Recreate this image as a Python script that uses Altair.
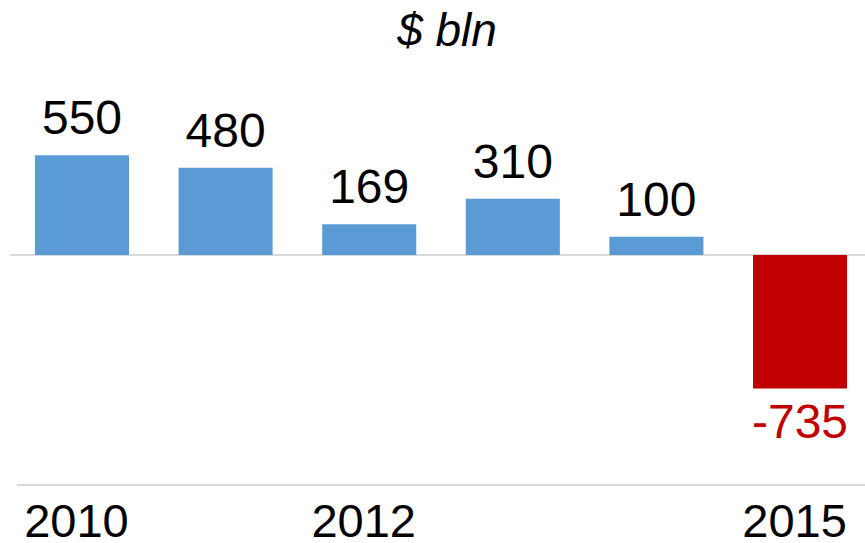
import altair as alt
import pandas as pd

years = ["2010", "2011", "2012", "2013", "2014", "2015"]
values = [550, 480, 169, 310, 100, -735]
shown_years = ["2010", "2012", "2015"]

df = pd.DataFrame({"year": years, "value": values})
df["label"] = df["value"].astype(str)
df["zero"] = 0

FONT = "Liberation Sans"
BLUE = "#5B9BD5"
RED = "#C00000"

x = alt.X(
    "year:O",
    sort=years,
    scale=alt.Scale(paddingInner=0.345, paddingOuter=0.125),
    axis=alt.Axis(
        title=None,
        values=shown_years,
        labelAngle=0,
        labelFont=FONT,
        labelFontSize=47,
        labelColor="#000000",
        labelPadding=20,
        labelBaseline="top",
        translate=-5,
        ticks=False,
        domain=False,
        grid=False,
    ),
)
yscale = alt.Scale(domain=[-1267, 1019], nice=False, zero=False)
y = alt.Y("value:Q", scale=yscale, axis=None)

base = alt.Chart(df)

bars = base.mark_bar().encode(
    x=x,
    y=y,
    y2="zero:Q",
    color=alt.condition(alt.datum.value < 0, alt.value(RED), alt.value(BLUE)),
)

pos_labels = base.transform_filter(alt.datum.value >= 0).mark_text(
    font=FONT, fontSize=48, baseline="alphabetic", dy=-21, color="#000000"
).encode(x=x, y=y, text="label:N")

neg_labels = base.transform_filter(alt.datum.value < 0).mark_text(
    font=FONT, fontSize=48, baseline="top", dy=12, color=RED
).encode(x=x, y=y, text="label:N")

zero_rule = base.mark_rule(color="#D9D9D9", strokeWidth=2).encode(
    y=alt.Y("zero:Q", scale=yscale, axis=None),
    x=alt.value(-7),
    x2=alt.value(848),
)

bottom_rule = base.mark_rule(color="#D9D9D9", strokeWidth=2).encode(
    y=alt.value(415), x=alt.value(0), x2=alt.value(848)
)

chart = (
    alt.layer(zero_rule, bottom_rule, bars, pos_labels, neg_labels)
    .properties(
        width=848,
        height=415,
        background="white",
        padding={"left": 17, "top": 70, "right": 0, "bottom": 58},
        autosize=alt.AutoSizeParams(type="none"),
        title=alt.TitleParams(
            "$ bln",
            font=FONT,
            fontSize=46,
            fontStyle="italic",
            fontWeight="normal",
            color="#000000",
            anchor="middle",
            offset=14,
            dx=6,
        ),
    )
    .configure_view(strokeWidth=0, stroke=None)
)

chart.save("out.html", embed_options={"renderer": "svg", "actions": False})
